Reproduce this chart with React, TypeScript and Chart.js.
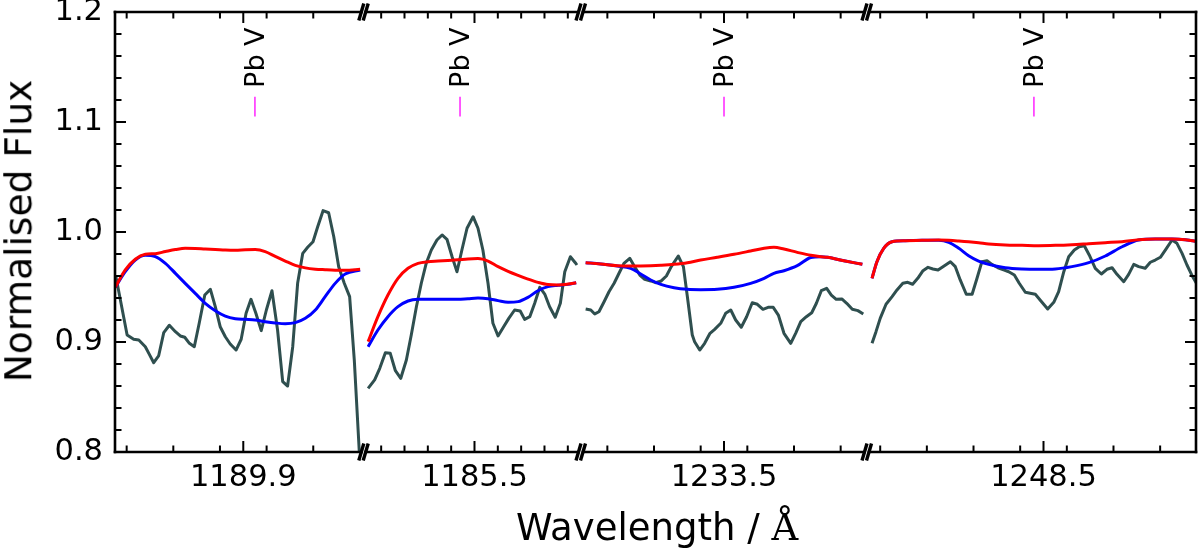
import React, { useEffect, useRef } from "react";
import { Chart, registerables } from "chart.js";

Chart.register(...registerables);
Chart.defaults.font.family = '"DejaVu Sans", sans-serif';

// ---------- Panel 1: 1189.9 Å ----------
const p1Range = [1189.35, 1190.406];
const p1Major = [1189.9];
const p1Minor = [1189.4, 1189.6, 1189.8, 1190.0, 1190.2];
const p1PbV = 1189.95;
const p1ObsWave = [1189.354, 1189.402, 1189.43, 1189.452, 1189.48, 1189.495, 1189.516, 1189.537, 1189.559, 1189.583, 1189.609, 1189.63, 1189.649, 1189.669, 1189.69, 1189.711, 1189.735, 1189.759, 1189.78, 1189.801, 1189.823, 1189.844, 1189.869, 1189.891, 1189.912, 1189.933, 1189.954, 1189.977, 1189.999, 1190.023, 1190.047, 1190.069, 1190.09, 1190.112, 1190.133, 1190.155, 1190.176, 1190.199, 1190.219, 1190.242, 1190.266, 1190.288, 1190.309, 1190.333, 1190.356, 1190.376, 1190.397, 1190.402];
const p1ObsFlux = [0.9594, 0.9064, 0.9025, 0.9018, 0.8957, 0.8897, 0.8812, 0.8873, 0.9085, 0.9152, 0.9094, 0.9055, 0.9043, 0.8988, 0.8957, 0.917, 0.9427, 0.9479, 0.9321, 0.9139, 0.9048, 0.8982, 0.8927, 0.9025, 0.9261, 0.9388, 0.9261, 0.9103, 0.9291, 0.9466, 0.9109, 0.8639, 0.86, 0.8957, 0.9534, 0.9806, 0.9861, 0.9912, 1.0048, 1.0194, 1.0175, 0.9957, 0.9685, 0.9534, 0.9412, 0.8836, 0.8018, 0.775];
const p1ModelWave = [1189.351, 1189.394, 1189.437, 1189.48, 1189.523, 1189.566, 1189.609, 1189.651, 1189.694, 1189.737, 1189.78, 1189.823, 1189.866, 1189.909, 1189.951, 1189.994, 1190.037, 1190.08, 1190.123, 1190.166, 1190.209, 1190.251, 1190.294, 1190.337, 1190.401];
const p1RedFlux = [0.9497, 0.9655, 0.9752, 0.9797, 0.9803, 0.9822, 0.984, 0.9852, 0.985, 0.9845, 0.9841, 0.9836, 0.9834, 0.9838, 0.984, 0.9822, 0.9778, 0.9736, 0.9697, 0.9674, 0.9662, 0.9657, 0.9653, 0.9652, 0.9661];
const p1BlueFlux = [0.9497, 0.9639, 0.9745, 0.9788, 0.9776, 0.9715, 0.9624, 0.9533, 0.9442, 0.9352, 0.9285, 0.9236, 0.9212, 0.9206, 0.92, 0.9185, 0.9173, 0.9166, 0.9176, 0.9215, 0.9291, 0.9412, 0.9533, 0.9618, 0.9655];

// ---------- Panel 2: 1185.5 Å ----------
const p2Range = [1185.0337, 1185.9458];
const p2Major = [1185.5];
const p2Minor = [1185.1, 1185.2, 1185.3, 1185.4, 1185.6, 1185.7, 1185.8, 1185.9];
const p2PbV = 1185.438;
const p2ObsWave = [1185.044, 1185.072, 1185.094, 1185.118, 1185.139, 1185.161, 1185.184, 1185.208, 1185.229, 1185.251, 1185.272, 1185.293, 1185.315, 1185.339, 1185.361, 1185.382, 1185.404, 1185.425, 1185.446, 1185.468, 1185.494, 1185.515, 1185.536, 1185.558, 1185.579, 1185.601, 1185.625, 1185.647, 1185.672, 1185.696, 1185.715, 1185.737, 1185.758, 1185.78, 1185.801, 1185.822, 1185.846, 1185.868, 1185.887, 1185.911, 1185.932, 1185.939];
const p2ObsFlux = [0.8579, 0.8655, 0.8761, 0.8903, 0.8897, 0.8739, 0.867, 0.8836, 0.9064, 0.9321, 0.9534, 0.9715, 0.9836, 0.9927, 0.9973, 0.9934, 0.9775, 0.9639, 0.9836, 1.0034, 1.0139, 1.0034, 0.9836, 0.9534, 0.917, 0.9055, 0.9139, 0.9215, 0.9291, 0.9282, 0.9206, 0.923, 0.9352, 0.9497, 0.9436, 0.9321, 0.9225, 0.9352, 0.9639, 0.9775, 0.9721, 0.97];
const p2ModelWave = [1185.044, 1185.086, 1185.129, 1185.172, 1185.215, 1185.258, 1185.301, 1185.344, 1185.386, 1185.429, 1185.472, 1185.515, 1185.558, 1185.601, 1185.644, 1185.687, 1185.729, 1185.772, 1185.815, 1185.858, 1185.901, 1185.936];
const p2RedFlux = [0.9003, 0.923, 0.9427, 0.9579, 0.967, 0.9715, 0.973, 0.9736, 0.9742, 0.9748, 0.9755, 0.9758, 0.9735, 0.9685, 0.9643, 0.9606, 0.9572, 0.9542, 0.9522, 0.9519, 0.9527, 0.9539];
const p2BlueFlux = [0.8957, 0.9109, 0.923, 0.9321, 0.9373, 0.9388, 0.9388, 0.9388, 0.9388, 0.9388, 0.9394, 0.94, 0.9394, 0.9376, 0.9361, 0.9367, 0.9406, 0.9466, 0.9503, 0.9515, 0.9524, 0.9539];

// ---------- Panel 3: 1233.5 Å ----------
const p3Range = [1232.8956, 1234.1022];
const p3Major = [1233.5];
const p3Minor = [1233.0, 1233.2, 1233.4, 1233.6, 1233.8, 1234.0];
const p3PbV = 1233.5;
const p3ObsWave = [1232.907, 1232.929, 1232.946, 1232.964, 1232.986, 1233.007, 1233.029, 1233.05, 1233.071, 1233.096, 1233.117, 1233.139, 1233.16, 1233.186, 1233.207, 1233.231, 1233.253, 1233.274, 1233.304, 1233.326, 1233.343, 1233.364, 1233.374, 1233.396, 1233.417, 1233.44, 1233.46, 1233.486, 1233.507, 1233.529, 1233.55, 1233.574, 1233.597, 1233.621, 1233.643, 1233.667, 1233.689, 1233.711, 1233.733, 1233.757, 1233.786, 1233.807, 1233.829, 1233.853, 1233.876, 1233.896, 1233.917, 1233.94, 1233.96, 1233.981, 1234.005, 1234.026, 1234.05, 1234.074, 1234.097];
const p3ObsFlux = [0.93, 0.9291, 0.9255, 0.9275, 0.9366, 0.9457, 0.9534, 0.9625, 0.9715, 0.9761, 0.9685, 0.9609, 0.957, 0.9555, 0.9539, 0.9555, 0.96, 0.9685, 0.9782, 0.9685, 0.9412, 0.9064, 0.9003, 0.8927, 0.8988, 0.9079, 0.9115, 0.917, 0.9261, 0.9291, 0.92, 0.9134, 0.923, 0.9357, 0.9343, 0.9297, 0.9315, 0.9315, 0.9245, 0.9079, 0.8988, 0.9079, 0.9185, 0.923, 0.9266, 0.9352, 0.9466, 0.9488, 0.9427, 0.9388, 0.9391, 0.9352, 0.9297, 0.9285, 0.9255];
const p3ModelWave = [1232.907, 1232.972, 1233.043, 1233.1, 1233.143, 1233.186, 1233.229, 1233.286, 1233.343, 1233.4, 1233.471, 1233.543, 1233.614, 1233.672, 1233.714, 1233.757, 1233.814, 1233.872, 1233.915, 1233.943, 1234.014, 1234.093];
const p3RedFlux = [0.9721, 0.9709, 0.9694, 0.9691, 0.9692, 0.9694, 0.9698, 0.9706, 0.972, 0.9745, 0.977, 0.9797, 0.9827, 0.9852, 0.9861, 0.9845, 0.9815, 0.9788, 0.9776, 0.977, 0.9739, 0.9706];
const p3BlueFlux = [0.9721, 0.9709, 0.9691, 0.967, 0.9618, 0.9564, 0.9524, 0.9494, 0.9479, 0.9476, 0.9479, 0.9497, 0.9533, 0.9579, 0.9624, 0.9648, 0.9694, 0.9768, 0.9776, 0.977, 0.9739, 0.9706];

// ---------- Panel 4: 1248.5 Å ----------
const p4Range = [1247.752, 1249.1537];
const p4Major = [1248.5];
const p4Minor = [1247.8, 1248.0, 1248.2, 1248.4, 1248.6, 1248.8, 1249.0];
const p4PbV = 1248.459;
const p4ObsWave = [1247.765, 1247.782, 1247.8, 1247.825, 1247.851, 1247.872, 1247.897, 1247.918, 1247.939, 1247.961, 1247.982, 1248.005, 1248.026, 1248.048, 1248.069, 1248.101, 1248.122, 1248.143, 1248.169, 1248.194, 1248.215, 1248.236, 1248.258, 1248.279, 1248.305, 1248.329, 1248.351, 1248.375, 1248.396, 1248.422, 1248.443, 1248.465, 1248.489, 1248.518, 1248.544, 1248.565, 1248.587, 1248.608, 1248.632, 1248.653, 1248.675, 1248.696, 1248.722, 1248.748, 1248.772, 1248.794, 1248.815, 1248.844, 1248.865, 1248.887, 1248.908, 1248.936, 1248.958, 1248.979, 1249.001, 1249.025, 1249.051, 1249.072, 1249.094, 1249.115, 1249.137, 1249.158];
const p4ObsFlux = [0.8988, 0.9094, 0.9215, 0.9343, 0.9412, 0.9473, 0.9534, 0.9543, 0.9525, 0.9579, 0.9645, 0.9679, 0.9664, 0.9655, 0.9685, 0.973, 0.9685, 0.9564, 0.9434, 0.9434, 0.9579, 0.973, 0.9739, 0.9706, 0.9675, 0.9655, 0.9639, 0.9609, 0.9534, 0.9452, 0.9443, 0.9434, 0.9373, 0.93, 0.9361, 0.9457, 0.9639, 0.9775, 0.9836, 0.9866, 0.9875, 0.9791, 0.967, 0.9618, 0.9661, 0.9675, 0.9615, 0.9548, 0.9615, 0.9706, 0.9685, 0.967, 0.9725, 0.9745, 0.977, 0.9845, 0.9927, 0.9897, 0.9806, 0.97, 0.9603, 0.9525];
const p4ModelWave = [1247.765, 1247.786, 1247.815, 1247.851, 1247.908, 1247.979, 1248.051, 1248.094, 1248.137, 1248.179, 1248.222, 1248.265, 1248.336, 1248.408, 1248.479, 1248.551, 1248.622, 1248.694, 1248.765, 1248.837, 1248.908, 1248.979, 1249.051, 1249.108, 1249.165];
const p4RedFlux = [0.9579, 0.973, 0.9852, 0.9912, 0.9921, 0.9924, 0.9927, 0.9924, 0.9918, 0.9911, 0.9902, 0.9891, 0.9882, 0.9879, 0.9876, 0.9879, 0.9885, 0.9894, 0.9903, 0.9912, 0.993, 0.9936, 0.9936, 0.993, 0.9912];
const p4BlueFlux = [0.9579, 0.973, 0.9852, 0.9912, 0.9921, 0.9924, 0.9924, 0.9906, 0.9852, 0.9785, 0.9736, 0.9706, 0.9676, 0.9664, 0.9661, 0.9664, 0.9685, 0.9721, 0.9782, 0.9866, 0.9927, 0.9936, 0.9936, 0.993, 0.9912];

// ---------- shared axis / annotation values ----------
const yMin = 0.8;
const yMax = 1.2;
const yMajor = [0.8, 0.9, 1.0, 1.1, 1.2];
const yMinorStep = 0.02;
const lineName = "Pb V";
const markerFlux = [1.105, 1.123];
const lineLabelFlux = 1.131;
const xTitle = "Wavelength / ";
const xTitleUnit = "Å";
const yTitle = "Normalised Flux";

type Side = "left" | "right" | null;
type PanelDef = {
  range: number[];
  major: number[];
  minor: number[];
  pbv: number;
  obsWave: number[];
  obsFlux: number[];
  modelWave: number[];
  red: number[];
  blue: number[];
  left: number;
  right: number;
  side: Side;
};

const panels: PanelDef[] = [
  { range: p1Range, major: p1Major, minor: p1Minor, pbv: p1PbV, obsWave: p1ObsWave, obsFlux: p1ObsFlux, modelWave: p1ModelWave, red: p1RedFlux, blue: p1BlueFlux, left: 115, right: 361.3, side: "left" },
  { range: p2Range, major: p2Major, minor: p2Minor, pbv: p2PbV, obsWave: p2ObsWave, obsFlux: p2ObsFlux, modelWave: p2ModelWave, red: p2RedFlux, blue: p2BlueFlux, left: 365.7, right: 578.5, side: null },
  { range: p3Range, major: p3Major, minor: p3Minor, pbv: p3PbV, obsWave: p3ObsWave, obsFlux: p3ObsFlux, modelWave: p3ModelWave, red: p3RedFlux, blue: p3BlueFlux, left: 583, right: 864.5, side: null },
  { range: p4Range, major: p4Major, minor: p4Minor, pbv: p4PbV, obsWave: p4ObsWave, obsFlux: p4ObsFlux, modelWave: p4ModelWave, red: p4RedFlux, blue: p4BlueFlux, left: 869, right: 1196, side: "right" },
];

const W = 1200;
const H = 551;
const PLOT_TOP = 12;
const PLOT_BOTTOM = 452;
const TICK_FONT = 30.5;

const pts = (xs: number[], ys: number[]) => xs.map((x, i) => ({ x, y: ys[i] }));

// Spines, inward ticks, axis-break marks and the Pb V line marker.
function makeFramePlugin(p: PanelDef) {
  return {
    id: "frame",
    afterDatasetsDraw(chart: any) {
      const { ctx, chartArea } = chart;
      const { left, right, top, bottom } = chartArea;
      const xs = chart.scales.x;
      const ys = chart.scales.y;
      const seg = (x1: number, y1: number, x2: number, y2: number) => {
        ctx.beginPath();
        ctx.moveTo(x1, y1);
        ctx.lineTo(x2, y2);
        ctx.stroke();
      };
      ctx.save();
      ctx.strokeStyle = "#000";

      // x ticks on bottom and top, pointing inward
      ctx.lineWidth = 2;
      const xTick = (v: number, len: number) => {
        const px = xs.getPixelForValue(v);
        seg(px, bottom, px, bottom - len);
        seg(px, top, px, top + len);
      };
      p.major.forEach((v) => xTick(v, 11));
      p.minor.forEach((v) => xTick(v, 6.5));

      // y ticks on the outer spine
      if (p.side) {
        const sx = p.side === "left" ? left : right;
        const dir = p.side === "left" ? 1 : -1;
        const n = Math.round((yMax - yMin) / yMinorStep);
        for (let k = 0; k <= n; k++) {
          const v = yMin + k * yMinorStep;
          const isMajor = yMajor.some((m) => Math.abs(m - v) < 1e-6);
          const py = ys.getPixelForValue(v);
          seg(sx, py, sx + dir * (isMajor ? 11 : 6.5), py);
        }
      }

      // spines
      ctx.lineWidth = 2.6;
      ctx.lineCap = "square";
      seg(left, top, right, top);
      seg(left, bottom, right, bottom);
      if (p.side === "left") seg(left, top, left, bottom);
      if (p.side === "right") seg(right, top, right, bottom);

      // break marks
      ctx.lineWidth = 3.4;
      ctx.lineCap = "butt";
      const slash = (ex: number) => {
        [top, bottom].forEach((yy) => seg(ex - 2.5, yy + 8.5, ex + 2.5, yy - 8.5));
      };
      if (p.side !== "left") slash(left);
      if (p.side !== "right") slash(right);

      // Pb V marker and label
      const mx = xs.getPixelForValue(p.pbv);
      ctx.strokeStyle = "#ff00ff";
      ctx.lineWidth = 1.3;
      seg(mx, ys.getPixelForValue(markerFlux[0]), mx, ys.getPixelForValue(markerFlux[1]));
      ctx.save();
      ctx.translate(mx + 9, ys.getPixelForValue(lineLabelFlux));
      ctx.rotate(-Math.PI / 2);
      ctx.fillStyle = "#000";
      ctx.font = '27px "DejaVu Sans"';
      ctx.textAlign = "left";
      ctx.textBaseline = "alphabetic";
      ctx.fillText(lineName, 0, 0);
      ctx.restore();

      ctx.restore();
    },
  };
}

function PanelChart({ p }: { p: PanelDef }) {
  const ref = useRef<HTMLCanvasElement | null>(null);
  const cl = p.side === "left" ? 0 : Math.floor(p.left - 12);
  const cr = p.side === "right" ? W : Math.ceil(p.right + 12);

  useEffect(() => {
    if (!ref.current) return;
    const chart = new Chart(ref.current, {
      type: "line",
      data: {
        datasets: [
          {
            label: "red model",
            data: pts(p.modelWave, p.red),
            borderColor: "#ff0000",
            borderWidth: 3,
            pointRadius: 0,
            cubicInterpolationMode: "monotone",
            borderJoinStyle: "round",
            fill: false,
          },
          {
            label: "blue model",
            data: pts(p.modelWave, p.blue),
            borderColor: "#0000ff",
            borderWidth: 3,
            pointRadius: 0,
            cubicInterpolationMode: "monotone",
            borderJoinStyle: "round",
            fill: false,
          },
          {
            label: "observed",
            data: pts(p.obsWave, p.obsFlux),
            borderColor: "#2f4f4f",
            borderWidth: 3,
            pointRadius: 0,
            tension: 0,
            borderJoinStyle: "round",
            fill: false,
          },
        ],
      },
      options: {
        responsive: false,
        animation: false,
        devicePixelRatio: 1,
        events: [],
        layout: {
          padding: {
            left: p.side === "left" ? 0 : p.left - cl,
            right: cr - p.right,
            top: PLOT_TOP,
            bottom: 0,
          },
        },
        plugins: { legend: { display: false }, tooltip: { enabled: false } },
        scales: {
          x: {
            type: "linear",
            position: "bottom",
            min: p.range[0],
            max: p.range[1],
            grid: { display: false, drawTicks: false },
            border: { display: false },
            ticks: {
              color: "#000",
              padding: 8,
              maxRotation: 0,
              autoSkip: false,
              font: { size: TICK_FONT },
              callback: (v: any) => Number(v).toFixed(1),
            },
            afterBuildTicks: (s: any) => {
              s.ticks = p.major.map((v) => ({ value: v }));
            },
            afterFit: (s: any) => {
              s.height = H - PLOT_BOTTOM;
              s.paddingLeft = 0;
              s.paddingRight = 0;
            },
          },
          y: {
            type: "linear",
            position: "left",
            display: p.side === "left",
            min: yMin,
            max: yMax,
            grid: { display: false, drawTicks: false },
            border: { display: false },
            ticks: {
              color: "#000",
              padding: 12,
              font: { size: TICK_FONT },
              callback: (v: any) => Number(v).toFixed(1),
            },
            afterBuildTicks: (s: any) => {
              s.ticks = yMajor.map((v) => ({ value: v }));
            },
            afterFit: (s: any) => {
              if (p.side === "left") s.width = p.left;
              s.paddingTop = 0;
              s.paddingBottom = 0;
            },
          },
        },
      },
      plugins: [makeFramePlugin(p)],
    } as any);
    return () => chart.destroy();
  }, []);

  return (
    <canvas
      ref={ref}
      width={cr - cl}
      height={H}
      style={{ position: "absolute", left: cl, top: 0, width: cr - cl, height: H }}
    />
  );
}

export default function App() {
  return (
    <div
      style={{
        position: "absolute",
        left: 0,
        top: 0,
        width: W,
        height: H,
        background: "#fff",
        overflow: "hidden",
        fontFamily: '"DejaVu Sans", sans-serif',
        color: "#000",
      }}
    >
      {panels.map((p, i) => (
        <PanelChart key={i} p={p} />
      ))}
      <div
        style={{
          position: "absolute",
          left: 19,
          top: 231,
          transform: "translate(-50%, -50%) rotate(-90deg)",
          fontSize: 37.5,
          lineHeight: 1,
          whiteSpace: "nowrap",
        }}
      >
        {yTitle}
      </div>
      <div
        style={{
          position: "absolute",
          left: 657,
          top: 527,
          transform: "translate(-50%, -50%)",
          fontSize: 37,
          lineHeight: 1,
          whiteSpace: "nowrap",
        }}
      >
        {xTitle}
        <span style={{ fontFamily: '"DejaVu Serif", serif' }}>{xTitleUnit}</span>
      </div>
    </div>
  );
}
